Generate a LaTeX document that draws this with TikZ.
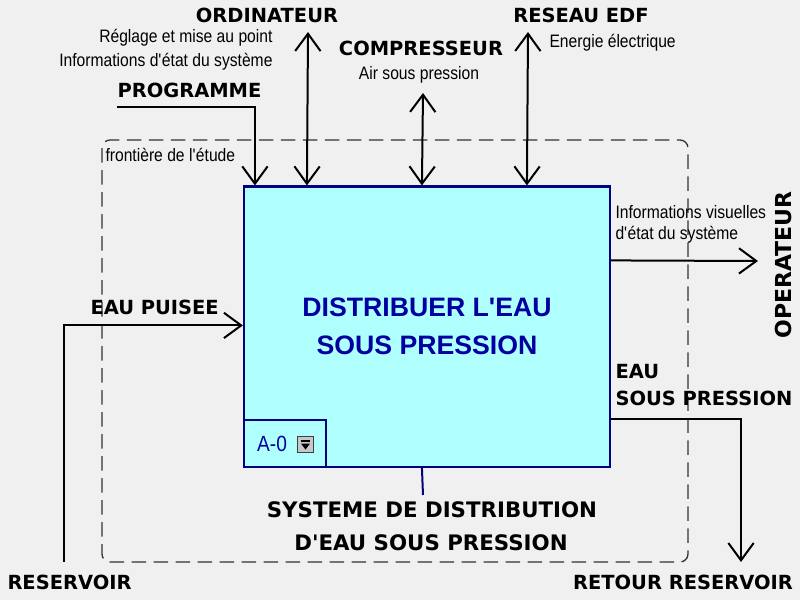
\documentclass[tikz,border=0pt]{standalone}
\usepackage{fontspec}
\setmainfont{Liberation Sans}
\newfontfamily\heavyfont{DejaVu Sans}
\newfontfamily\narrowfont{Liberation Sans}[FakeStretch=0.87]
\usetikzlibrary{arrows.meta,calc}

\definecolor{bgGray}{RGB}{240,240,240}
\definecolor{boxFill}{RGB}{175,255,255}
\definecolor{boxLine}{RGB}{0,0,128}
\definecolor{boxText}{RGB}{0,0,160}

\tikzset{every picture/.style={line width=0.75pt}}
\tikzset{
	flow/.style={draw=black, line width=1.5pt, -{Straight Barb[length=13pt,width=19pt]}},
	biflow/.style={flow, {Straight Barb[length=13pt,width=19pt]}-{Straight Barb[length=13pt,width=19pt]}},
	tag/.style={font=\heavyfont\bfseries\fontsize{14.6}{17}\selectfont, inner sep=0pt},
	bigtag/.style={font=\heavyfont\bfseries\fontsize{16}{19}\selectfont, inner sep=0pt},
	note/.style={font=\narrowfont\fontsize{13.5}{16}\selectfont, inner sep=0pt},
	fnbox/.style={draw=boxLine, fill=boxFill, line width=1.6pt, inner sep=0pt},
	boundary/.style={draw=black!80, line width=1pt, dash pattern=on 11pt off 5.5pt, rounded corners=6pt}
}

\begin{document}
\begin{tikzpicture}[x=0.75pt,y=0.75pt,yscale=-1,xscale=1]
				%background
				\fill[bgGray] (0,0) rectangle (800,600);
				\useasboundingbox (0,0) rectangle (800,600);
				
				%Dashed boundary of the study
				\draw[boundary] (102,140) rectangle (688,562);
				% Text Node
				\node[note, anchor=west] (front) at (105,155) {frontière de l\textquotesingle étude};
				
				%Function box
				\node[fnbox, minimum width=274.5pt, minimum height=210.4pt, align=center,
				      font=\bfseries\fontsize{20}{28.5}\selectfont, text=boxText] (fn) at (427,326.75)
				      {DISTRIBUER L\textquotesingle EAU\\SOUS PRESSION};
				%Node number box
				\node[fnbox, anchor=south west, minimum width=61.5pt, minimum height=35.25pt] (num) at (fn.south west) {};
				\node[note, font=\narrowfont\fontsize{16.5}{18}\selectfont, text=boxText] (numtxt) at (272,444) {A-0};
				\node[draw=black!75, fill=black!22, line width=0.6pt, minimum size=12pt, inner sep=0pt] (numbtn) at (305.5,444.5) {};
				\fill ($(numbtn.center)+(-4.5,-5)$) rectangle ($(numbtn.center)+(4.5,-3)$);
				\fill ($(numbtn.center)+(-4.5,-1)$) -- ($(numbtn.center)+(4.5,-1)$) -- ($(numbtn.center)+(0,5)$) -- cycle;
				
				% Text Node
				\node[tag] (ordi) at (267,15.5) {ORDINATEUR};
				\node[note, anchor=east] (regl) at (273,38) {Réglage et mise au point};
				\node[note, anchor=east] (etat) at (273,62) {Informations d\textquotesingle état du système};
				\node[tag, anchor=west] (prog) at (117,90) {PROGRAMME};
				\node[tag] (comp) at (421,48) {COMPRESSEUR};
				\node[note] (air) at (419,75) {Air sous pression};
				\node[tag] (edf) at (581,15.5) {RESEAU EDF};
				\node[note, anchor=west] (nrj) at (549,43) {Energie électrique};
				
				\node[note, anchor=west] (visu) at (615,212) {Informations visuelles};
				\node[note, anchor=west] (visuB) at (615,235) {d\textquotesingle état du système};
				\node[tag, rotate=90, font=\heavyfont\bfseries\fontsize{16.5}{19}\selectfont] (oper) at (783,265) {OPERATEUR};
				\node[tag, anchor=west] (eau) at (615,372) {EAU};
				\node[tag, anchor=west] (eauSP) at (615,398) {SOUS PRESSION};
				\node[tag] (retour) at (683,582) {RETOUR RESERVOIR};
				
				\node[tag, anchor=west] (puisee) at (90,307) {EAU PUISEE};
				\node[tag, anchor=west] (reserv) at (7,582) {RESERVOIR};
				
				\node[bigtag] (meca) at (432,510) {SYSTEME DE DISTRIBUTION};
				\node[bigtag] (mecaB) at (431,543) {D\textquotesingle EAU SOUS PRESSION};
				
				%Free ends of the arrows
				\coordinate (progEnd) at (117,107);
				\coordinate (ordiEnd) at (308,32);
				\coordinate (compEnd) at (423,93);
				\coordinate (edfEnd) at (528,32);
				\coordinate (operEnd) at (758,261);
				\coordinate (retourEnd) at (741,562);
				\coordinate (reservEnd) at (64,562);
				\coordinate (mecaEnd) at (423,495);
				
				%Controls
				\draw[flow] (progEnd) -| ($(fn.north west)+(12,0)$);
				%Straight Lines
				\draw[biflow] (ordiEnd) -- ($(fn.north west)+(64,0)$);
				\draw[biflow] (compEnd) -- ($(fn.north west)+(179,0)$);
				\draw[biflow] (edfEnd) -- ($(fn.north west)+(284,0)$);
				%Outputs
				\draw[flow] ($(fn.north east)+(0,75)$) -- (operEnd);
				\draw[flow] ($(fn.north east)+(0,234)$) -| (retourEnd);
				%Input
				\draw[flow] (reservEnd) |- ($(fn.north west)+(0,140)$);
				%Mechanism
				\draw[draw=boxLine, line width=1.5pt] ($(fn.south west)+(179,0)$) -- (mecaEnd);
				
\end{tikzpicture}
\end{document}
